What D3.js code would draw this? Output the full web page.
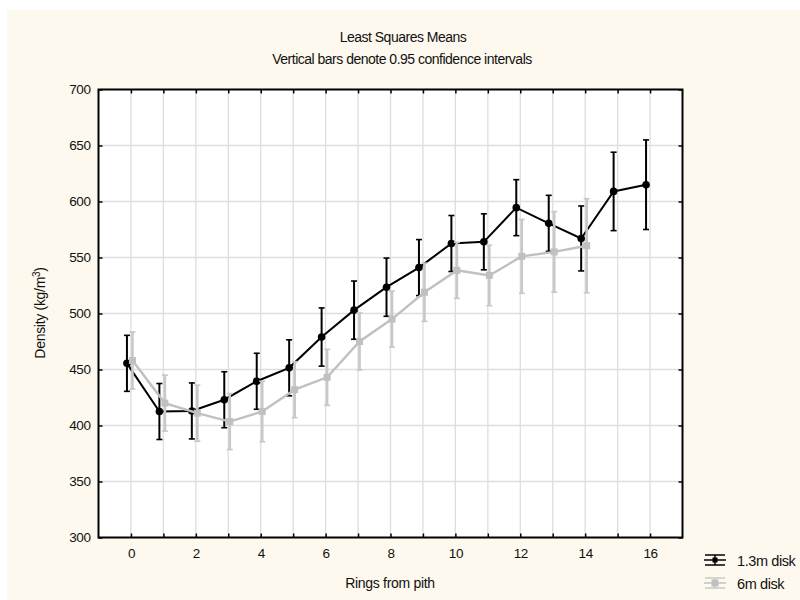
<!DOCTYPE html>
<html>
<head>
<meta charset="utf-8">
<script src="https://cdn.jsdelivr.net/npm/d3@7"></script>
<style>
  body { margin: 0; background: #fff; }
  text { font-family: "Liberation Sans", Arial, sans-serif; fill: #111; }
</style>
</head>
<body>
<svg id="chart" width="800" height="600"></svg>
<script>
// data
const rings = [0, 1, 2, 3, 4, 5, 6, 7, 8, 9, 10, 11, 12, 13, 14, 15, 16];
const disk13Mean = [455.5, 412.5, 413, 423, 439.5, 451.5, 479, 503, 523.5, 541, 562.5, 564, 594.5, 580.5, 567, 609, 615];
const disk13Ci = [25, 25, 25, 25, 25, 25, 26, 26, 26, 25, 25, 25, 25, 25, 29, 35, 40];
const disk6Mean = [458, 420, 411, 403.5, 412.5, 432, 443, 475, 495, 519, 538.5, 534, 551, 555, 560.5];
const disk6Ci = [25.5, 25, 25, 25, 27, 25, 25, 25.5, 25, 26, 25, 27, 33, 36, 42];
const yTicks = [300, 350, 400, 450, 500, 550, 600, 650, 700];
const xTicks = rings;

const series = [
  { name: "1.3m disk", mean: disk13Mean, ci: disk13Ci, color: "#000", barColor: "#000", shift: -4, marker: "circle" },
  { name: "6m disk", mean: disk6Mean, ci: disk6Ci, color: "#c0c0c0", barColor: "#c8c8c8", shift: 1.5, marker: "square" }
];

const svg = d3.select("#chart");
const margin = { left: 98.5, right: 682.5, top: 89.5, bottom: 537.5 };

// background
svg.append("rect")
  .attr("x", 7).attr("y", 10)
  .attr("width", 793).attr("height", 590)
  .attr("fill", "#fdf9ee");

svg.append("rect")
  .attr("x", margin.left).attr("y", margin.top)
  .attr("width", margin.right - margin.left)
  .attr("height", margin.bottom - margin.top)
  .attr("fill", "#fff");

// scales
const x = d3.scaleLinear().domain([-1, 17]).range([margin.left, margin.right]);
const y = d3.scaleLinear().domain([300, 700]).range([margin.bottom, margin.top]);

// grid
const grid = svg.append("g").attr("class", "grid");
grid.selectAll(".gx")
  .data(xTicks)
  .join("line")
  .attr("x1", d => x(d)).attr("x2", d => x(d))
  .attr("y1", margin.top).attr("y2", margin.bottom)
  .attr("stroke", "#dedede").attr("stroke-width", 1.3);
grid.selectAll(".gy")
  .data(yTicks.slice(1, -1))
  .join("line")
  .attr("x1", margin.left).attr("x2", margin.right)
  .attr("y1", d => y(d)).attr("y2", d => y(d))
  .attr("stroke", "#dedede").attr("stroke-width", 1.3);

// axes (ticks point inwards)
const fmtX = d => (d % 2 === 0 ? d : "");
svg.append("g")
  .attr("transform", `translate(0,${margin.bottom})`)
  .call(d3.axisBottom(x).tickValues(xTicks).tickSize(-4).tickPadding(11).tickFormat(fmtX))
  .call(g => g.select(".domain").remove());
svg.append("g")
  .attr("transform", `translate(0,${margin.top})`)
  .call(d3.axisTop(x).tickValues(xTicks).tickSize(-4).tickFormat(""))
  .call(g => g.select(".domain").remove());
svg.append("g")
  .attr("transform", `translate(${margin.left},0)`)
  .call(d3.axisLeft(y).tickValues(yTicks).tickSize(-4).tickPadding(8))
  .call(g => g.select(".domain").remove());
svg.append("g")
  .attr("transform", `translate(${margin.right},0)`)
  .call(d3.axisRight(y).tickValues(yTicks).tickSize(-4).tickFormat(""))
  .call(g => g.select(".domain").remove());

svg.selectAll(".tick line").attr("stroke", "#000").attr("stroke-width", 1.5);
svg.selectAll(".tick text").style("font-size", "13.5px").attr("fill", "#111")
  .style("letter-spacing", "-0.4px")
  .style("font-family", "'Liberation Sans', Arial, sans-serif");

// frame
svg.append("rect")
  .attr("x", margin.left).attr("y", margin.top)
  .attr("width", margin.right - margin.left)
  .attr("height", margin.bottom - margin.top)
  .attr("fill", "none").attr("stroke", "#000").attr("stroke-width", 2);

// series
series.forEach(s => {
  const pts = s.mean.map((v, i) => ({ r: rings[i], v, ci: s.ci[i] }));
  const g = svg.append("g");
  const px = d => x(d.r) + s.shift;

  // error bars
  g.selectAll(".bar").data(pts).join("line")
    .attr("x1", px).attr("x2", px)
    .attr("y1", d => y(d.v - d.ci)).attr("y2", d => y(d.v + d.ci))
    .attr("stroke", s.barColor).attr("stroke-width", s.marker === "circle" ? 2 : 2.6);
  [-1, 1].forEach(sign => {
    g.selectAll(".cap" + sign).data(pts).join("line")
      .attr("x1", d => px(d) - 3).attr("x2", d => px(d) + 3)
      .attr("y1", d => y(d.v + sign * d.ci)).attr("y2", d => y(d.v + sign * d.ci))
      .attr("stroke", s.barColor).attr("stroke-width", 1.6);
  });

  // line
  g.append("path")
    .datum(pts)
    .attr("d", d3.line().x(px).y(d => y(d.v)))
    .attr("fill", "none").attr("stroke", s.color).attr("stroke-width", s.marker === "circle" ? 2 : 2.4);

  // markers
  if (s.marker === "circle") {
    g.selectAll(".pt").data(pts).join("circle")
      .attr("cx", px).attr("cy", d => y(d.v)).attr("r", 3.8)
      .attr("fill", s.color);
  } else {
    g.selectAll(".pt").data(pts).join("rect")
      .attr("x", d => px(d) - 3.5).attr("y", d => y(d.v) - 3.5)
      .attr("width", 7).attr("height", 7)
      .attr("fill", s.color);
  }
});

// titles
svg.append("text").attr("x", 403).attr("y", 42).attr("text-anchor", "middle")
  .style("font-size", "14px").style("letter-spacing", "-0.5px").text("Least Squares Means");
svg.append("text").attr("x", 402).attr("y", 64).attr("text-anchor", "middle")
  .style("font-size", "14px").style("letter-spacing", "-0.5px")
  .text("Vertical bars denote 0.95 confidence intervals");
svg.append("text").attr("x", 390).attr("y", 588).attr("text-anchor", "middle")
  .style("font-size", "14px").style("letter-spacing", "-0.3px").text("Rings from pith");

const yl = svg.append("text")
  .attr("transform", "translate(45,313) rotate(-90)")
  .attr("text-anchor", "middle")
  .style("font-size", "14px").style("letter-spacing", "-0.3px");
yl.append("tspan").text("Density (kg/m");
yl.append("tspan").attr("dy", -5).style("font-size", "10px").text("3");
yl.append("tspan").attr("dy", 5).text(")");

// legend
const legend = svg.append("g");
series.forEach((s, i) => {
  const cy = 560 + i * 23;
  const lg = legend.append("g");
  lg.append("line").attr("x1", 704).attr("x2", 726).attr("y1", cy).attr("y2", cy)
    .attr("stroke", s.color).attr("stroke-width", 1.5);
  [-5, 5].forEach(o => {
    lg.append("line").attr("x1", 705).attr("x2", 725).attr("y1", cy + o).attr("y2", cy + o)
      .attr("stroke", s.barColor).attr("stroke-width", 1.5);
  });
  lg.append("line").attr("x1", 715).attr("x2", 715).attr("y1", cy - 5).attr("y2", cy + 5)
    .attr("stroke", s.barColor).attr("stroke-width", 1.5);
  if (s.marker === "circle") {
    lg.append("rect").attr("x", 712.5).attr("y", cy - 2.5).attr("width", 5).attr("height", 5).attr("fill", s.color);
  } else {
    lg.append("rect").attr("x", 711.5).attr("y", cy - 3.5).attr("width", 7).attr("height", 7).attr("fill", s.color);
  }
  lg.append("text").attr("x", 737).attr("y", cy + 6)
    .style("font-size", "14.5px").style("letter-spacing", "-0.4px").text(s.name);
});
</script>
</body>
</html>
